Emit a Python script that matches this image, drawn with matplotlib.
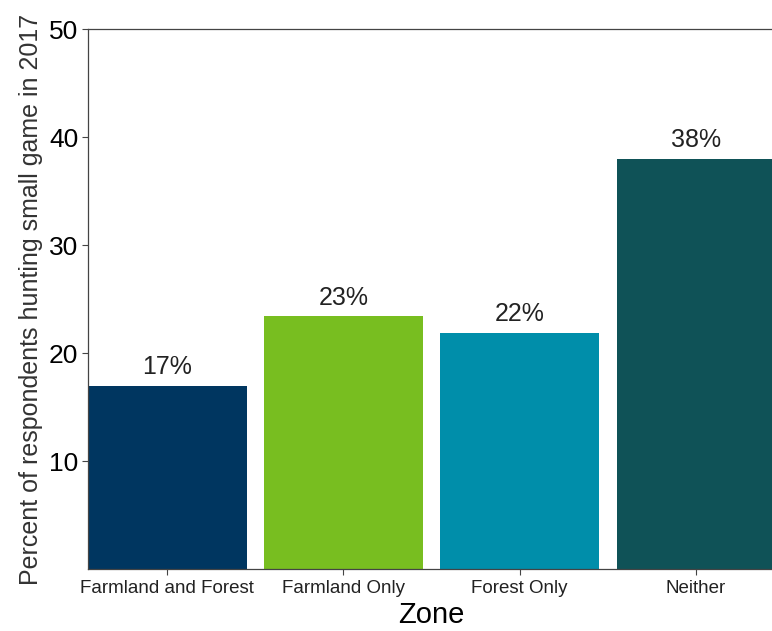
import matplotlib
matplotlib.use("Agg")
import matplotlib.pyplot as plt

plt.rcParams['font.family'] = ['Liberation Sans', 'DejaVu Sans']

zones = ['Farmland and Forest', 'Farmland Only', 'Forest Only', 'Neither']
percent = [17.0, 23.4, 21.9, 38.0]
labels = ['17%', '23%', '22%', '38%']
colors = ['#003660', '#78BE20', '#008EAA', '#0F5257']

fig = plt.figure(figsize=(7.72, 6.31), dpi=100)
ax = fig.add_axes([0.114, 0.098, 0.89, 0.856])

x = list(range(len(zones)))
ax.bar(x, percent, width=0.9, color=colors)
for xi, v, lab in zip(x, percent, labels):
    ax.text(xi, v + 0.6, lab, ha='center', va='bottom', fontsize=18, color='#222222')

ax.set_xlim(-0.45, 3.45)
ax.set_ylim(0, 50)
ax.set_yticks([10, 20, 30, 40, 50])
ax.set_xticks(x)
ax.set_xticklabels(zones, fontsize=13.5)
ax.tick_params(axis='y', labelsize=19, colors='#444444', labelcolor='black', length=4, pad=3)
ax.tick_params(axis='x', colors='#444444', labelcolor='#222222', length=4)

for s in ax.spines.values():
    s.set_color('#444444')
    s.set_linewidth(0.9)

ax.set_xlabel('Zone', fontsize=21, labelpad=3)
ax.set_ylabel('Percent of respondents hunting small game in 2017', fontsize=18, color='#333333', labelpad=4)

fig.savefig('out.png', dpi=100)
